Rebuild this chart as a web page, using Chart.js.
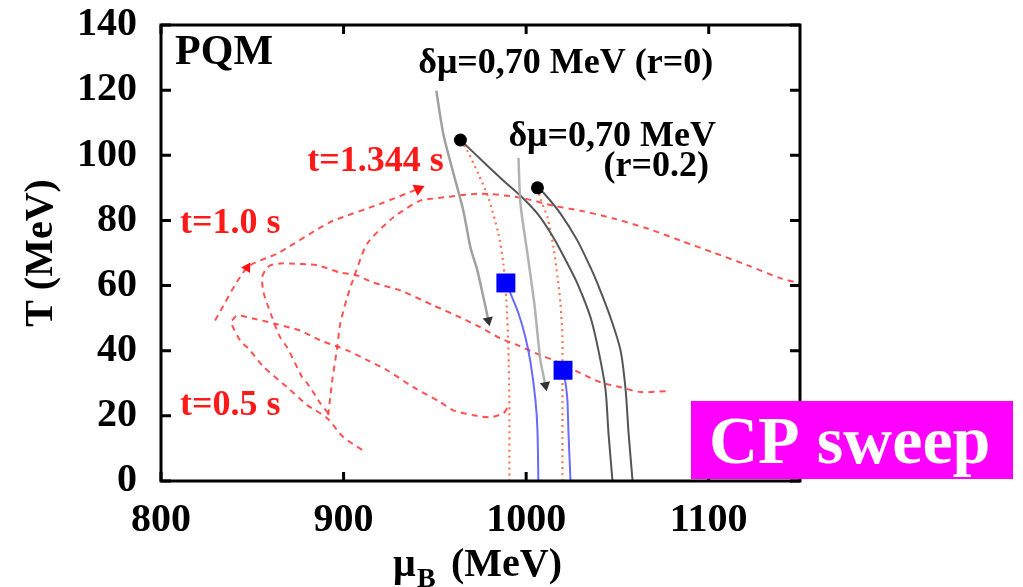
<!DOCTYPE html>
<html>
<head>
<meta charset="utf-8">
<script src="https://cdn.jsdelivr.net/npm/chart.js@4.4.0/dist/chart.umd.min.js"></script>
<style>
  html, body { margin: 0; padding: 0; background: #fff; }
  #wrap { width: 1023px; height: 587px; }
</style>
</head>
<body>
<div id="wrap"><canvas id="pd" width="1023" height="587"></canvas></div>
<script>
// axes
const muRange = [800, 1150];
const tRange = [0, 140];
const muTicks = [800, 900, 1000, 1100];
const tTicks = [0, 20, 40, 60, 80, 100, 120, 140];

// critical points and the swept ones (mu_B, T)
const critPoints = [[964.0, 104.7], [1006.2, 90.0]];
const sweptPoints = [[988.9, 60.8], [1020.2, 34.0]];

// first order lines (r=0, r=0.2)
const foLineR0 = [[964.0, 104.7], [978.8, 96.8], [987.6, 92.2], [996.9, 87.6], [1006.2, 82.1], [1015.0, 74.7],
  [1022.6, 66.8], [1028.1, 60.6], [1035.3, 50.2], [1039.6, 40.1], [1043.5, 27.9], [1045.1, 14.7], [1047.3, 0]];
const foLineR2 = [[1006.2, 90.0], [1009.5, 88.5], [1018.8, 82.1], [1028.1, 73.8], [1035.3, 65.5], [1039.1, 60.6],
  [1046.2, 50.2], [1051.7, 40.1], [1054.5, 27.9], [1056.1, 14.7], [1058.3, 0]];

// dotted lines below the critical points
const dotLineR0 = [[964.0, 104.7], [967.8, 101.4], [973.8, 94.3], [979.3, 87.0], [984.8, 76.0], [987.5, 66.8],
  [989.2, 55.4], [990.3, 40.1], [990.8, 24.8], [990.8, 0]];
const dotLineR2 = [[1006.2, 90.0], [1007.8, 86.7], [1011.7, 80.9], [1015.0, 71.7], [1017.2, 62.5], [1018.8, 54.5],
  [1019.9, 44.1], [1019.9, 37.1], [1019.9, 19.6], [1019.9, 0]];

// blue lines from the swept points
const blueLine1 = [[988.9, 60.8], [991.4, 57.6], [995.8, 51.5], [999.6, 44.1], [1002.4, 36.4], [1005.1, 24.8],
  [1006.2, 15.6], [1006.7, 0]];
const blueLine2 = [[1020.2, 34.0], [1021.6, 30.0], [1022.6, 24.8], [1023.2, 14.7], [1024.3, 0]];

// gray arrows
const arrowR0 = [[950.8, 119.8], [954.6, 106.6], [960.1, 94.6], [965.6, 83.0], [969.5, 71.7], [973.3, 64.6],
  [976.6, 56.4], [979.3, 49.3]];
const arrowR2 = [[995.8, 99.2], [996.9, 85.1], [1000.7, 69.8], [1004.6, 53.9], [1007.8, 37.1], [1010.6, 29.4]];

// red trajectories
const redPath1 = [[829.6, 49.3], [847.2, 65.5], [863.6, 69.8], [887.2, 77.8], [894.3, 79.9], [920.1, 85.1], [940.9, 89.7]];
const redPath2 = [[891.6, 20.2], [892.7, 25.7], [893.8, 30.9], [896.5, 41.0], [898.2, 48.4], [902.0, 56.4],
  [906.4, 63.7], [913.0, 72.9], [927.2, 80.9], [942.0, 86.1], [949.2, 86.7], [974.9, 88.2], [996.9, 87.0],
  [1015.0, 84.5], [1029.8, 83.0], [1047.9, 80.6], [1066.5, 77.5], [1084.6, 73.8], [1102.7, 70.1],
  [1121.4, 66.2], [1139.5, 62.2], [1150, 60.7]];
const redPath3 = [[891.6, 20.8], [887.2, 23.9], [884.5, 26.3], [880.1, 30.0], [877.3, 31.9], [873.5, 36.1],
  [869.1, 41.0], [865.3, 44.1], [862.5, 47.8], [860.9, 50.2], [858.1, 54.5], [855.9, 58.5], [855.4, 62.5],
  [857.0, 64.6], [859.8, 66.2], [865.3, 66.8], [870.7, 66.8], [885.5, 66.2], [898.2, 64.0], [907.5, 63.1],
  [916.3, 60.9], [931.1, 58.5], [949.2, 53.9], [964.0, 50.2], [974.9, 47.2], [985.9, 43.8], [995.2, 41.7],
  [1007.8, 38.6], [1015.0, 37.1], [1029.8, 33.1], [1040.7, 30.3], [1051.7, 28.8], [1062.7, 27.3], [1077.5, 27.6]];
const redPath4 = [[838.9, 49.3], [841.7, 50.8], [850.5, 49.9], [863.6, 48.1], [876.2, 46.2], [887.2, 43.2],
  [902.0, 40.1], [913.0, 37.1], [923.9, 34.0], [938.2, 28.8], [953.0, 24.2], [960.1, 21.7], [971.1, 20.2],
  [980.4, 19.6], [987.6, 20.8], [989.7, 22.4]];
const redPath5 = [[838.9, 47.8], [843.3, 43.2], [848.8, 40.1], [855.9, 35.2], [869.1, 28.8], [880.1, 23.3],
  [891.0, 19.3], [899.8, 13.5], [911.9, 8.9]];

const RED = 'rgba(255, 40, 40, 0.8)';
const serif = '"Liberation Serif", "DejaVu Serif", serif';

function pts(arr) {
  return arr.map(p => ({ x: p[0], y: p[1] }));
}

function curve(arr, color, width, dash, extra) {
  return Object.assign({
    data: pts(arr),
    showLine: true,
    borderColor: color,
    borderWidth: width,
    borderDash: dash,
    tension: 0.25,
    pointRadius: 0,
    pointBorderWidth: 0,
    fill: false
  }, extra || {});
}

function arrowHead(n, rot, color) {
  const r = new Array(n).fill(0);
  r[n - 1] = 6;
  return { pointRadius: r, pointStyle: 'triangle', pointRotation: rot, pointBackgroundColor: color };
}

const annotations = [
  { text: 'PQM', mu: 807.7, t: 128.0, color: '#000', size: 42 },
  { text: 'δμ=0,70 MeV (r=0)', mu: 940.9, t: 125.3, color: '#000', size: 36 },
  { text: 'δμ=0,70 MeV', mu: 990.3, t: 102.9, color: '#000', size: 36 },
  { text: '(r=0.2)', mu: 1042.4, t: 93.7, color: '#000', size: 36 },
  { text: 't=1.344 s', mu: 880.1, t: 95.3, color: '#ff1a1a', size: 36 },
  { text: 't=1.0 s', mu: 810.4, t: 76.0, color: '#ff1a1a', size: 36 },
  { text: 't=0.5 s', mu: 810.4, t: 20.2, color: '#ff1a1a', size: 36 }
];

const framePlugin = {
  id: 'frame',
  afterDraw(chart) {
    const { ctx, chartArea: a, scales: { x, y } } = chart;
    ctx.save();
    ctx.strokeStyle = '#000';
    ctx.lineWidth = 3;
    ctx.setLineDash([]);
    ctx.strokeRect(a.left, a.top, a.right - a.left, a.bottom - a.top);
    ctx.beginPath();
    tTicks.forEach(v => {
      const py = y.getPixelForValue(v);
      ctx.moveTo(a.left, py); ctx.lineTo(a.left + 10, py);
      ctx.moveTo(a.right, py); ctx.lineTo(a.right - 10, py);
    });
    muTicks.forEach(v => {
      const px = x.getPixelForValue(v);
      ctx.moveTo(px, a.bottom); ctx.lineTo(px, a.bottom - 9);
      ctx.moveTo(px, a.top); ctx.lineTo(px, a.top + 9);
    });
    ctx.stroke();

    // text labels
    ctx.textBaseline = 'alphabetic';
    ctx.textAlign = 'left';
    annotations.forEach(n => {
      ctx.font = 'bold ' + n.size + 'px ' + serif;
      ctx.fillStyle = n.color;
      ctx.fillText(n.text, x.getPixelForValue(n.mu), y.getPixelForValue(n.t));
    });

    // x axis title with subscript
    ctx.fillStyle = '#000';
    ctx.font = 'bold 40px ' + serif;
    ctx.fillText('μ', 393, 576);
    ctx.font = 'bold 28px ' + serif;
    ctx.fillText('B', 417, 587);
    ctx.font = 'bold 40px ' + serif;
    ctx.fillText('(MeV)', 451, 576);

    // CP sweep box
    ctx.fillStyle = '#ff00ff';
    ctx.fillRect(691, 401, 322, 78);
    ctx.fillStyle = '#fff';
    ctx.font = 'bold 68px ' + serif;
    ctx.fillText('CP sweep', 709, 463);
    ctx.restore();
  }
};

const chart = new Chart(document.getElementById('pd'), {
  type: 'scatter',
  data: {
    datasets: [
      { data: pts(critPoints), pointRadius: 6.5, pointStyle: 'circle', pointBackgroundColor: '#000', pointBorderWidth: 0 },
      { data: pts(sweptPoints), pointRadius: 13.4, pointStyle: 'rect', pointBackgroundColor: '#0000ff', pointBorderWidth: 0 },
      curve(arrowR0, 'rgba(150,150,150,0.9)', 2.5, [], arrowHead(arrowR0.length, 168, '#333')),
      curve(arrowR2, 'rgba(170,170,170,0.9)', 2.5, [], arrowHead(arrowR2.length, 169, '#333')),
      curve(foLineR0, '#555', 2, []),
      curve(foLineR2, '#555', 2, []),
      curve(blueLine1, 'rgba(90,90,255,0.9)', 2, []),
      curve(blueLine2, 'rgba(90,90,255,0.9)', 2, []),
      curve(dotLineR0, 'rgba(255,90,50,0.85)', 2.2, [2, 4]),
      curve(dotLineR2, 'rgba(255,90,50,0.85)', 2.2, [2, 4]),
      curve(redPath1, RED, 2, [6, 5], {
        pointRadius: [0, 6, 0, 0, 0, 0, 7],
        pointStyle: 'triangle',
        pointRotation: [0, 31, 0, 0, 0, 0, 66],
        pointBackgroundColor: '#ff1010'
      }),
      curve(redPath2, RED, 2, [6, 5]),
      curve(redPath3, RED, 2, [6, 5]),
      curve(redPath4, RED, 2, [6, 5]),
      curve(redPath5, RED, 2, [6, 5])
    ]
  },
  options: {
    responsive: false,
    devicePixelRatio: 1,
    animation: false,
    events: [],
    layout: { padding: { left: 0, right: 223, top: 25, bottom: 0 } },
    plugins: { legend: { display: false }, tooltip: { enabled: false } },
    scales: {
      x: {
        type: 'linear',
        min: muRange[0],
        max: muRange[1],
        grid: { display: false, drawTicks: false },
        border: { display: false },
        ticks: {
          stepSize: 100,
          includeBounds: false,
          maxRotation: 0,
          autoSkip: false,
          padding: 16,
          color: '#000',
          font: { family: serif, size: 40, weight: 'bold' },
          callback: v => String(v)
        },
        afterFit(scale) { scale.height = 106; }
      },
      y: {
        min: tRange[0],
        max: tRange[1],
        grid: { display: false, drawTicks: false },
        border: { display: false },
        ticks: {
          stepSize: 20,
          padding: 24,
          color: '#000',
          font: { family: serif, size: 40, weight: 'bold' },
          callback: v => String(v)
        },
        title: {
          display: true,
          text: 'T (MeV)',
          color: '#000',
          padding: { top: 18, bottom: 0 },
          font: { family: serif, size: 40, weight: 'bold' }
        },
        afterFit(scale) {
          scale.width = 161;
          // tick padding is added to the top room by default; keep only half a label
          scale.paddingTop = 20;
          scale.paddingBottom = 0;
        }
      }
    }
  },
  plugins: [framePlugin]
});
</script>
</body>
</html>
